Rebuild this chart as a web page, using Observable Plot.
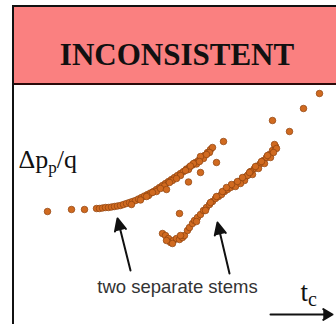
<!DOCTYPE html>
<html><head><meta charset="utf-8">
<script src="https://cdn.jsdelivr.net/npm/d3@7"></script>
<script src="https://cdn.jsdelivr.net/npm/@observablehq/plot@0.6"></script>
<style>
html,body{margin:0;padding:0;background:#fff;overflow:hidden;width:336px;height:324px;}
#box{position:absolute;left:12px;top:5px;width:326px;border-left:2px solid #111;border-top:2px solid #111;}
#hdr{position:relative;height:76px;background:#fa8080;border-bottom:2px solid #2a0a0a;}
#hdr h1{position:absolute;left:0;right:0;top:32px;margin:0;text-align:center;font:bold 31px/31px "Liberation Serif","Times New Roman",serif;color:#111;}
#chart svg{display:block;overflow:visible}
</style></head><body>
<div id="box"><div id="hdr"><h1 id="title"></h1></div><div id="chart"></div></div>
<script>
const title = "INCONSISTENT";

// [t, Δp/q] in arbitrary units
const upperStem = [
  [16.5,57],[28.5,58],[35,58],[41,58.5],
  [42.5,58.5],[44,58.75],[45.5,59],[47,59],[48.5,59.25],[50,59.5],[51.5,59.75],[53,60],
  [54.5,60.5],[56,61],[57.5,61.5],[59,62],[60.5,62.5],[62,63.25],[63.5,64],[65,64.75],
  [66.5,65.5],[68,66.25],[69.5,67],[71,68],[72.5,69],[74,70],[75.5,71],[77,72],[78.5,73],
  [80,74],[81.5,75],[83,76],[84.5,77],[86,78.25],[87.5,79.25],[89,80.25],[90.5,81.5],
  [92,82.5],[93.5,83.75],[95,85],[96.5,86.5],[98,88],[99,89],
  [58.5,60.5],[63,62.75],[67,65],[71,67],[75,69.75],[79,72.5],[83,75],[87,78],[91,80.75],
  [94.5,83.5],[97.5,86.5],[85.5,77.5],[89.5,81],[93,84.5],
  [69,66.5],[73,68.5],[77.5,71.5],[81,73.5],[88,79.75],[92.5,82],[96,85.5],[66,64.5]
];
const lowerStem = [
  [74,46],[75.5,45],[77,43.5],[78,41.5],[79.5,42.5],[81,43.5],[82.5,43],[84,44],[85,45],
  [76,42.5],[79,41],[83,45],
  [86.5,47.5],[87.5,49],[89,51],[90,52.5],[91.5,54],[93,55.5],[94.5,57.5],[96,59],[97.5,60.5],
  [99,62],[100.5,63.5],[102,64.5],[103.5,65.5],[105,67],[106.5,68],[108,69],[109.5,70],[111,71],
  [112.5,72],[114,73],[115.5,74.25],[117,75.5],[118.5,77],[120,78.5],[121.5,79.75],[123,81],
  [124.5,82.5],[126,84],[127.5,85.5],[129,87.5],[130.5,89.5],[130,90.5],
  [110.5,69.5],[115,72.5],[119,75.5],[122,78.5],[125,81],[128,84],[116.5,75],[113,71],
  [101,64.5],[95.5,57.5],[91,52],[104,67],[123.5,82],[131,88.5],[118,77],[108.5,70.5],
  [111.5,72],[114,74],[117.5,76.5],[120.5,79.5],[126.5,85],[129.5,86.5],[106,69],[98,61.5]
];
const scattered = [
  [76,68],[87,71.75],[93,76.5],[101,81.5],[104.5,92],[129,102.5],[137.5,97],[144.5,108.5],
  [152.5,116],[82.5,56]
];

// annotations
const stemArrows = [
  {x1:58, y1:27.5, x2:51.5, y2:53.5},
  {x1:107.5, y1:26, x2:101.5, y2:51.5}
];
const timeArrow = [{x1:128, y1:5.5, x2:159, y2:5.5}];
const noteText = [{x:81.5, y:16.5, text:"two separate stems"}];
const axisLabels = [
  {x:2, y:79, main:"Δp", sub:"p", tail:"/q", size:26, subSize:17, dy:5},
  {x:143, y:12.5, main:"t", sub:"c", tail:"", size:27, subSize:20, dy:5}
];

document.getElementById("title").textContent = title;

const dotStyle = {x: d => d[0], y: d => d[1], r: 3.3, fill: "#d06a20", stroke: "#8e420e", strokeWidth: 0.7};

const chart = Plot.plot({
  width: 326, height: 240, margin: 0,
  x: {domain: [0, 163], axis: null},
  y: {domain: [0, 120], axis: null},
  style: {background: "transparent"},
  marks: [
    Plot.dot(upperStem, dotStyle),
    Plot.dot(lowerStem, dotStyle),
    Plot.dot(scattered, dotStyle),
    Plot.arrow(stemArrows, {x1:"x1", y1:"y1", x2:"x2", y2:"y2", stroke:"#111", fill:"#111", strokeWidth:2, headLength:10, headAngle:50}),
    Plot.arrow(timeArrow, {x1:"x1", y1:"y1", x2:"x2", y2:"y2", stroke:"#111", fill:"#111", strokeWidth:2, headLength:8, headAngle:60}),
    Plot.text(noteText, {x:"x", y:"y", text:"text", lineAnchor:"bottom", textAnchor:"middle", fontSize:18.5, fill:"#333", fontFamily:"Liberation Sans, Arial, sans-serif"}),
    Plot.text(axisLabels, {x:"x", y:"y", text: d => d.main + d.sub + d.tail, lineAnchor:"bottom", textAnchor:"start", fontSize: d => d.size, fill:"#111", fontFamily:"Liberation Serif, Times New Roman, serif"})
  ]
});
document.getElementById("chart").appendChild(chart);

// rebuild axis labels with subscripts
d3.select(chart).selectAll("text").each(function() {
  const t = this.textContent;
  const lab = axisLabels.find(l => l.main + l.sub + l.tail === t);
  if (!lab) return;
  const s = d3.select(this);
  s.text(null);
  s.append("tspan").text(lab.main);
  s.append("tspan").attr("dy", lab.dy).attr("font-size", lab.subSize).text(lab.sub);
  if (lab.tail) s.append("tspan").attr("dy", -lab.dy).text(lab.tail);
});
</script></body></html>
